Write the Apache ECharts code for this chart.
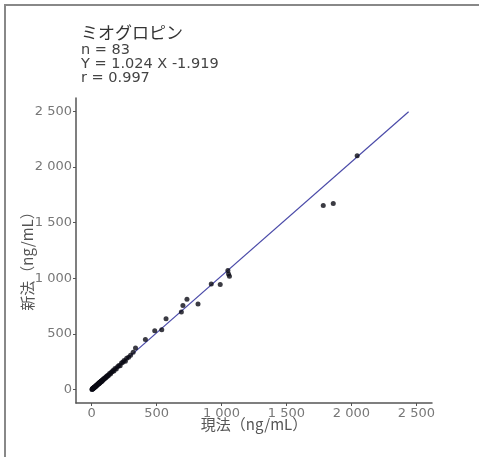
<!DOCTYPE html>
<html><head><meta charset="utf-8">
<script src="https://cdn.jsdelivr.net/npm/echarts@6/dist/echarts.min.js"></script>
<style>html,body{margin:0;padding:0;background:#fff;}#c{width:479px;height:457px;}</style>
</head><body><div id="c"></div>
<script>
var titleText = 'ミオグロピン';
var statLines = ['n = 83', 'Y = 1.024 X -1.919', 'r = 0.997'];
var xAxisName = '現法（ng/mL）';
var yAxisName = '新法（ng/mL）';
var tickValues = [0, 500, 1000, 1500, 2000, 2500];
var tickLabels = ['0', '500', '1 000', '1 500', '2 000', '2 500'];
var regSlope = 1.024;
var regIntercept = -1.919;
var regXRange = [0, 2440];
var currentMethod = [3,5,6,8,10,12,15,17,18,20,22,25,27,28,30,33,35,38,40,42,45,48,50,52,53,55,58,60,63,65,68,70,73,75,78,80,85,88,92,95,100,105,110,115,120,125,130,138,145,150,158,165,172,180,190,200,210,220,230,240,250,260,270,285,300,320,
  338,414,486,540,573,691,703,734,819,921,990,1049,1054,1061,1783,1860,2044];
var newMethod = [2,4,8,7,12,9,14,19,16,22,19,24,26,30,27,35,32,40,37,45,43,50,48,54,56,52,61,58,66,62,72,68,75,78,74,85,82,92,90,100,98,110,106,120,118,130,127,145,140,155,160,172,168,190,185,205,218,215,240,245,262,255,282,290,310,335,
  375,450,528,538,636,697,755,812,770,950,944,1070,1040,1019,1655,1673,2102];

var pts = currentMethod.map(function(x, i){ return [x, newMethod[i]]; });
var regLine = regXRange.map(function(x){ return [x, regSlope * x + regIntercept]; });
var cjk = 'Noto Sans CJK JP';
var latin = 'DejaVu Sans';
function lab(v){ var i = tickValues.indexOf(v); return i >= 0 ? tickLabels[i] : ''; }
var axisCommon = {
  type: 'value', min: -120, max: 2620,
  splitLine: {show: false},
  axisLine: {show: true, onZero: false, lineStyle: {color: '#555', width: 1.5}},
  axisTick: {show: true, length: 3, customValues: tickValues, lineStyle: {color: '#555'}},
  axisLabel: {customValues: tickValues, formatter: lab, color: '#777', fontSize: 13, fontFamily: latin, margin: 4},
  nameLocation: 'middle',
  nameMoveOverlap: false,
  nameTextStyle: {color: '#555', fontSize: 15, fontFamily: cjk}
};
var chart = echarts.init(document.getElementById('c'));
chart.setOption({
  animation: false,
  title: {
    text: titleText,
    subtext: statLines.join('\n'),
    left: 76, top: 19, itemGap: 2,
    textStyle: {color: '#333', fontSize: 17, fontWeight: 'normal', fontFamily: cjk},
    subtextStyle: {color: '#444', fontSize: 14.5, lineHeight: 14, fontFamily: latin, padding: [0, 0, 0, 3]}
  },
  graphic: [{type: 'rect', shape: {x: 5, y: 5, width: 500, height: 500}, style: {fill: 'none', stroke: '#888', lineWidth: 2}, silent: true}],
  grid: {left: 76, right: 47, top: 98, bottom: 54},
  xAxis: Object.assign({}, axisCommon, {name: xAxisName, nameGap: 14}),
  yAxis: Object.assign({}, axisCommon, {name: yAxisName, nameGap: 41,
    nameTextStyle: {color: '#555', fontSize: 15, fontFamily: cjk, padding: [0, 14, 0, 0]}}),
  series: [
    {type: 'line', data: regLine, showSymbol: false, lineStyle: {color: '#4a4aa8', width: 1.2}, z: 2},
    {type: 'scatter', data: pts, symbolSize: 5, itemStyle: {color: '#0a0a14'}, z: 3}
  ]
});
</script></body></html>
